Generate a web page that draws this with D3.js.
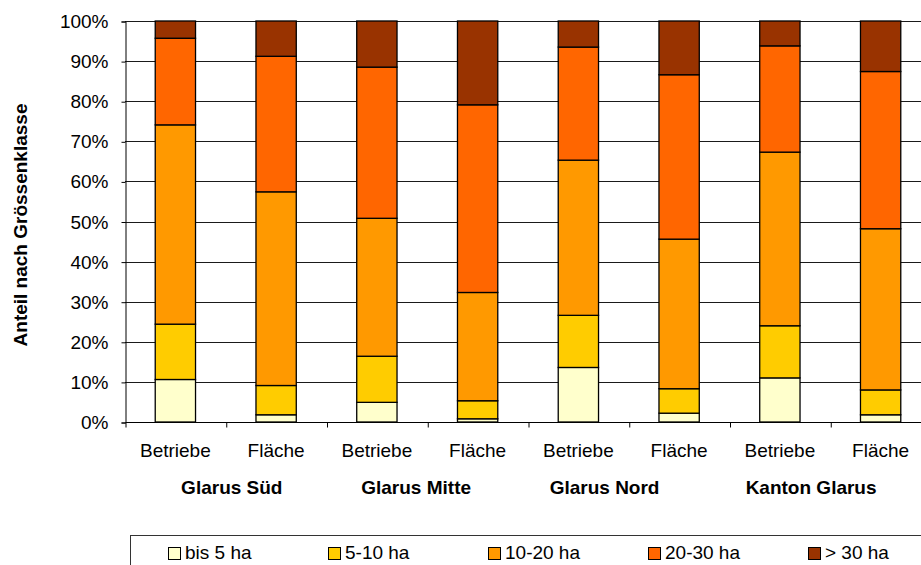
<!DOCTYPE html>
<html>
<head>
<meta charset="utf-8">
<script src="https://cdn.jsdelivr.net/npm/d3@7"></script>
<style>
  html, body { margin: 0; padding: 0; background: #fff; }
  svg { display: block; font-family: "Liberation Sans", Arial, sans-serif; }
</style>
</head>
<body>
<svg id="chart" width="921" height="565"></svg>
<script>
// ---- data ----
const categories = ["Betriebe", "Fläche", "Betriebe", "Fläche", "Betriebe", "Fläche", "Betriebe", "Fläche"];
const groups = ["Glarus Süd", "Glarus Mitte", "Glarus Nord", "Kanton Glarus"];
const seriesNames = ["bis 5 ha", "5-10 ha", "10-20 ha", "20-30 ha", "> 30 ha"];
const bis5 =    [10.6,  1.8,  4.9,  0.8, 13.6,  2.2, 11.0,  1.8];
const ha5_10 =  [13.8,  7.3, 11.5,  4.5, 13.0,  6.1, 13.0,  6.2];
const ha10_20 = [49.7, 48.3, 34.4, 27.0, 38.7, 37.3, 43.3, 40.2];
const ha20_30 = [21.6, 33.8, 37.7, 46.8, 28.2, 41.0, 26.5, 39.2];
const over30 =  [ 4.3,  8.8, 11.5, 20.9,  6.5, 13.4,  6.2, 12.6];
const yTicks = [0, 10, 20, 30, 40, 50, 60, 70, 80, 90, 100];

// ---- layout / style ----
const colors = ["#FFFFCC", "#FFCC00", "#FF9900", "#FF6600", "#993300"];
const groupLabelCenters = [1.06, 2.89, 4.76, 6.81]; // in category units, as in reference
const plot = { left: 125, right: 931, top: 21, bottom: 422 };
const fontSize = 19;

const svg = d3.select("#chart");

const series = [bis5, ha5_10, ha10_20, ha20_30, over30];
const rows = categories.map((c, i) => {
  const r = { idx: i };
  seriesNames.forEach((s, k) => r[s] = series[k][i]);
  return r;
});
const stacked = d3.stack().keys(seriesNames)(rows);

const x = d3.scaleBand().domain(d3.range(categories.length)).range([plot.left, plot.right]).paddingInner(0.6).paddingOuter(0.3);
const xLin = d3.scaleLinear().domain([0, categories.length]).range([plot.left, plot.right]);
const y = d3.scaleLinear().domain([0, 100]).range([plot.bottom, plot.top]);

// gridlines
svg.append("g")
  .selectAll("line").data(yTicks.filter(t => t > 0)).join("line")
  .attr("x1", plot.left).attr("x2", plot.right)
  .attr("y1", d => Math.round(y(d)) + 0.5).attr("y2", d => Math.round(y(d)) + 0.5)
  .attr("stroke", "#1a1a1a").attr("stroke-width", 1);

// bars
svg.append("g").selectAll("g").data(stacked).join("g")
  .attr("fill", (d, i) => colors[i])
  .selectAll("rect").data(d => d).join("rect")
  .attr("x", (d, i) => x(i))
  .attr("width", x.bandwidth())
  .attr("y", d => y(d[1]))
  .attr("height", d => y(d[0]) - y(d[1]))
  .attr("stroke", "#000").attr("stroke-width", 1.3);

// y axis
const yAxis = d3.axisLeft(y).tickValues(yTicks).tickFormat(d => d + "%").tickSize(4).tickPadding(13);
const gy = svg.append("g").attr("transform", `translate(${plot.left + 0.5},0.5)`).call(yAxis);
gy.select(".domain").attr("stroke", "#000");
gy.selectAll(".tick line").attr("stroke", "#000");
gy.selectAll("text").attr("font-size", fontSize).attr("fill", "#000").attr("font-family", "Liberation Sans, Arial, sans-serif");

// x axis: baseline + ticks at category boundaries
const xAxis = d3.axisBottom(xLin).tickValues(d3.range(categories.length + 1)).tickSize(5).tickFormat("");
const gx = svg.append("g").attr("transform", `translate(0.5,${plot.bottom + 0.5})`).call(xAxis);
gx.select(".domain").attr("stroke", "#000").attr("d", `M${plot.left},0H${plot.right}`);
gx.selectAll(".tick line").attr("stroke", "#000");

// category labels
svg.append("g").selectAll("text").data(categories).join("text")
  .attr("x", (d, i) => x(i) + x.bandwidth() / 2)
  .attr("y", 457)
  .attr("text-anchor", "middle")
  .attr("font-size", fontSize)
  .attr("fill", "#000")
  .text(d => d);

// group labels
svg.append("g").selectAll("text").data(groups).join("text")
  .attr("x", (d, i) => xLin(groupLabelCenters[i]))
  .attr("y", 494)
  .attr("text-anchor", "middle")
  .attr("font-size", fontSize)
  .attr("font-weight", "bold")
  .attr("fill", "#000")
  .text(d => d);

// y axis title
svg.append("text")
  .attr("transform", `translate(27,225) rotate(-90)`)
  .attr("text-anchor", "middle")
  .attr("font-size", fontSize)
  .attr("font-weight", "bold")
  .attr("fill", "#000")
  .text("Anteil nach Grössenklasse");

// legend
const legend = svg.append("g");
legend.append("rect")
  .attr("x", 130.5).attr("y", 535.5).attr("width", 820).attr("height", 60)
  .attr("fill", "#fff").attr("stroke", "#333").attr("stroke-width", 1);
const legendX = d3.scaleLinear().domain([0, 4]).range([168, 808]);
const li = legend.selectAll("g.item").data(seriesNames).join("g").attr("class", "item")
  .attr("transform", (d, i) => `translate(${legendX(i)},0)`);
li.append("rect")
  .attr("x", 0.5).attr("y", 547.5).attr("width", 12).attr("height", 12)
  .attr("fill", (d, i) => colors[i]).attr("stroke", "#000").attr("stroke-width", 1);
li.append("text")
  .attr("x", 17).attr("y", 559)
  .attr("font-size", fontSize)
  .attr("fill", "#000")
  .text(d => d);
</script>
</body>
</html>
